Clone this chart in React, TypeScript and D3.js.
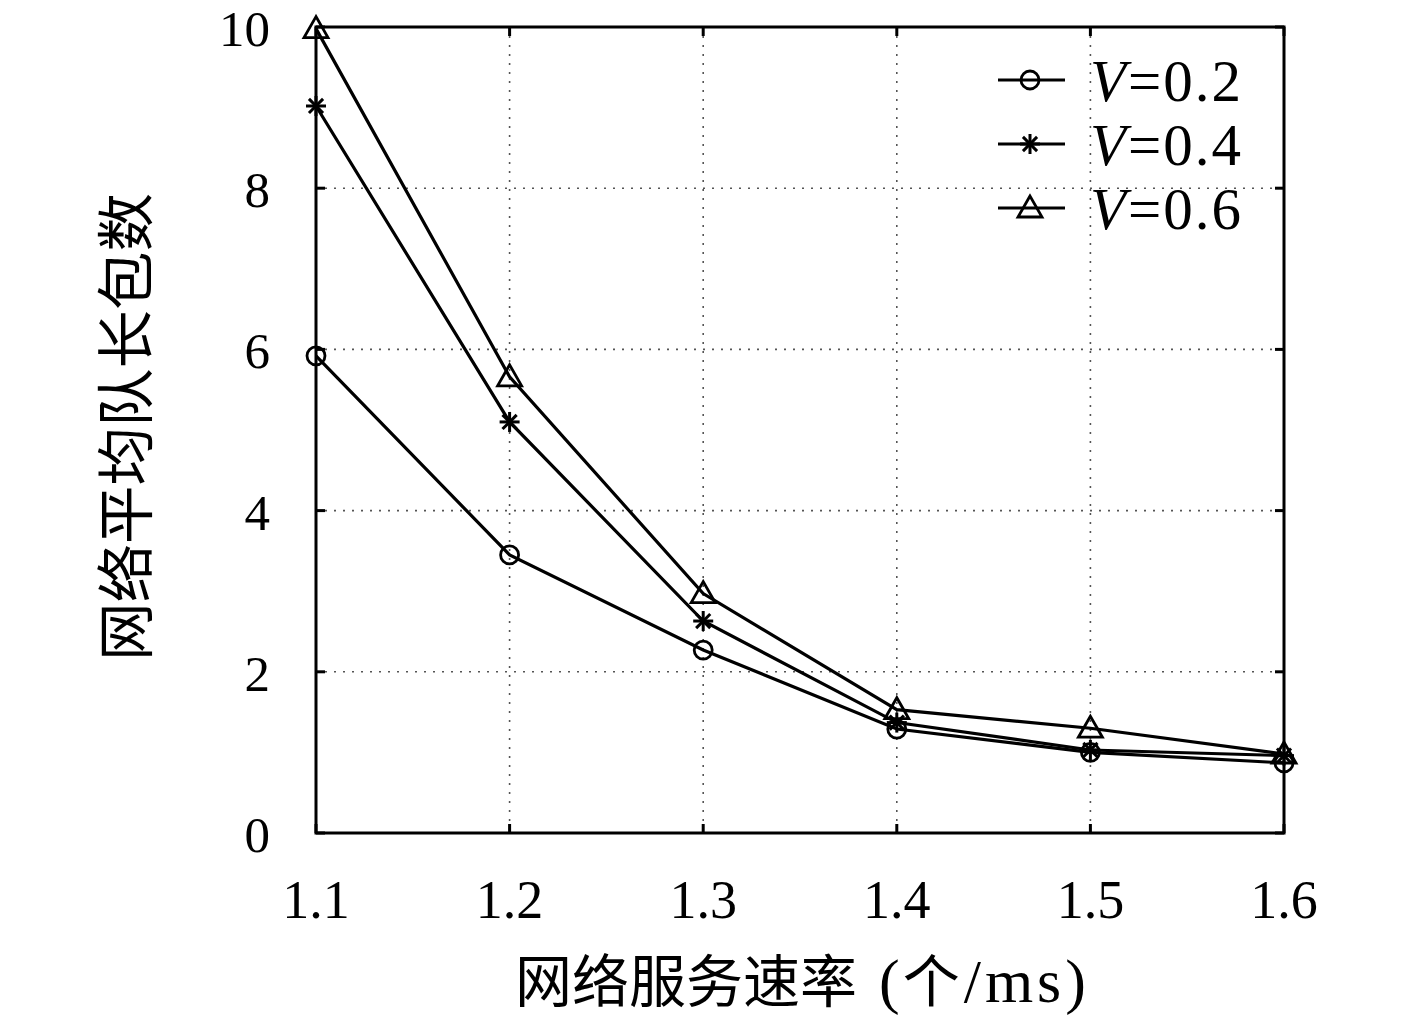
import React from "react";
import * as d3 from "d3";

const xValues = [1.1, 1.2, 1.3, 1.4, 1.5, 1.6];
const seriesV02 = [5.92, 3.45, 2.27, 1.29, 1.0, 0.87];
const seriesV04 = [9.02, 5.1, 2.63, 1.37, 1.03, 0.96];
const seriesV06 = [9.98, 5.66, 2.97, 1.53, 1.3, 0.98];
const legendLabels = ["0.2", "0.4", "0.6"];
const yTicks = [0, 2, 4, 6, 8, 10];
const xTickLabels = ["1.1", "1.2", "1.3", "1.4", "1.5", "1.6"];
const yAxisTitle = "网络平均队长包数";

const W = 1417;
const H = 1028;
const M = { left: 316, right: 1284, top: 27, bottom: 833 };
const FONT = "'Liberation Serif', 'DejaVu Serif', serif";
const CJK = "'Noto Sans CJK SC', sans-serif";

function Marker({ kind, x, y }: { kind: string; x: number; y: number }) {
  if (kind === "circle")
    return <circle cx={x} cy={y} r={9} fill="none" stroke="#000" strokeWidth={2.8} />;
  if (kind === "star") {
    const r = 10;
    const lines = [0, 45, 90, 135].map((a) => {
      const rad = (a * Math.PI) / 180;
      return (
        <line
          key={a}
          x1={x - r * Math.cos(rad)}
          y1={y - r * Math.sin(rad)}
          x2={x + r * Math.cos(rad)}
          y2={y + r * Math.sin(rad)}
          stroke="#000"
          strokeWidth={3}
        />
      );
    });
    return <g>{lines}</g>;
  }
  const s = 12;
  const pts = `${x},${y - s} ${x - s},${y + s * 0.75} ${x + s},${y + s * 0.75}`;
  return <polygon points={pts} fill="none" stroke="#000" strokeWidth={2.8} />;
}

export default function App() {
  const x = d3.scaleLinear().domain([1.1, 1.6]).range([M.left, M.right]);
  const y = d3.scaleLinear().domain([0, 10]).range([M.bottom, M.top]);
  const line = d3
    .line<[number, number]>()
    .x((d) => x(d[0]))
    .y((d) => y(d[1]));

  const series = [
    { vals: seriesV02, kind: "circle" },
    { vals: seriesV04, kind: "star" },
    { vals: seriesV06, kind: "tri" },
  ];

  const gridColor = "#555";
  const tickLen = 9;

  return (
    <div style={{ position: "fixed", left: 0, top: 0, width: W, height: H, background: "#fff" }}>
      <svg width={W} height={H} style={{ display: "block" }}>
        <rect x={0} y={0} width={W} height={H} fill="#fff" />
        {/* grid */}
        {yTicks.slice(1, -1).map((t) => (
          <line
            key={"gy" + t}
            x1={M.left}
            x2={M.right}
            y1={y(t)}
            y2={y(t)}
            stroke={gridColor}
            strokeWidth={1.6}
            strokeDasharray="2,7"
          />
        ))}
        {xValues.slice(1, -1).map((t) => (
          <line
            key={"gx" + t}
            x1={x(t)}
            x2={x(t)}
            y1={M.top}
            y2={M.bottom}
            stroke={gridColor}
            strokeWidth={1.6}
            strokeDasharray="2,7"
          />
        ))}
        {/* ticks */}
        {xValues.map((t) => (
          <g key={"tx" + t}>
            <line x1={x(t)} x2={x(t)} y1={M.bottom} y2={M.bottom - tickLen} stroke="#000" strokeWidth={3} />
            <line x1={x(t)} x2={x(t)} y1={M.top} y2={M.top + tickLen} stroke="#000" strokeWidth={3} />
          </g>
        ))}
        {yTicks.map((t) => (
          <g key={"ty" + t}>
            <line x1={M.left} x2={M.left + tickLen} y1={y(t)} y2={y(t)} stroke="#000" strokeWidth={3} />
            <line x1={M.right} x2={M.right - tickLen} y1={y(t)} y2={y(t)} stroke="#000" strokeWidth={3} />
          </g>
        ))}
        {/* frame */}
        <rect
          x={M.left}
          y={M.top}
          width={M.right - M.left}
          height={M.bottom - M.top}
          fill="none"
          stroke="#000"
          strokeWidth={3}
        />
        {/* tick labels */}
        {xValues.map((t, i) => (
          <text
            key={"lx" + t}
            x={x(t)}
            y={918}
            textAnchor="middle"
            fontFamily={FONT}
            fontSize={54}
            fill="#000"
          >
            {xTickLabels[i]}
          </text>
        ))}
        {yTicks.map((t) => (
          <text
            key={"ly" + t}
            x={270}
            y={y(t) + 19}
            textAnchor="end"
            fontFamily={FONT}
            fontSize={51}
            fill="#000"
          >
            {t}
          </text>
        ))}
        {/* series */}
        {series.map((s, si) => (
          <g key={"s" + si}>
            <path
              d={line(xValues.map((v, i) => [v, s.vals[i]] as [number, number])) || ""}
              fill="none"
              stroke="#000"
              strokeWidth={3.2}
            />
            {xValues.map((v, i) => (
              <Marker key={i} kind={s.kind} x={x(v)} y={y(s.vals[i])} />
            ))}
          </g>
        ))}
        {/* legend */}
        {series.map((s, si) => {
          const ly = 80 + si * 64;
          return (
            <g key={"lg" + si}>
              <line x1={998} x2={1065} y1={ly} y2={ly} stroke="#000" strokeWidth={3.2} />
              <Marker kind={s.kind} x={1030} y={ly} />
              <text x={1090} y={ly + 21} fontFamily={FONT} fontSize={59} letterSpacing={2} fill="#000">
                <tspan fontStyle="italic">V</tspan>
                <tspan>={legendLabels[si]}</tspan>
              </text>
            </g>
          );
        })}
        {/* axis titles */}
        <text x={515} y={1002} textAnchor="start" fontSize={57} fill="#000">
          <tspan fontFamily={CJK}>网络服务速率</tspan>
          <tspan fontFamily={FONT} fontSize={62} dx={22}>(</tspan>
          <tspan fontFamily={CJK} dx={3}>个</tspan>
          <tspan fontFamily={FONT} fontSize={62} dx={4} letterSpacing={4}>/ms)</tspan>
        </text>
        <text
          transform={`translate(147, ${427}) rotate(-90)`}
          textAnchor="middle"
          fontFamily={CJK}
          fontSize={58.5}
          fill="#000"
        >
          {yAxisTitle}
        </text>
      </svg>
    </div>
  );
}
